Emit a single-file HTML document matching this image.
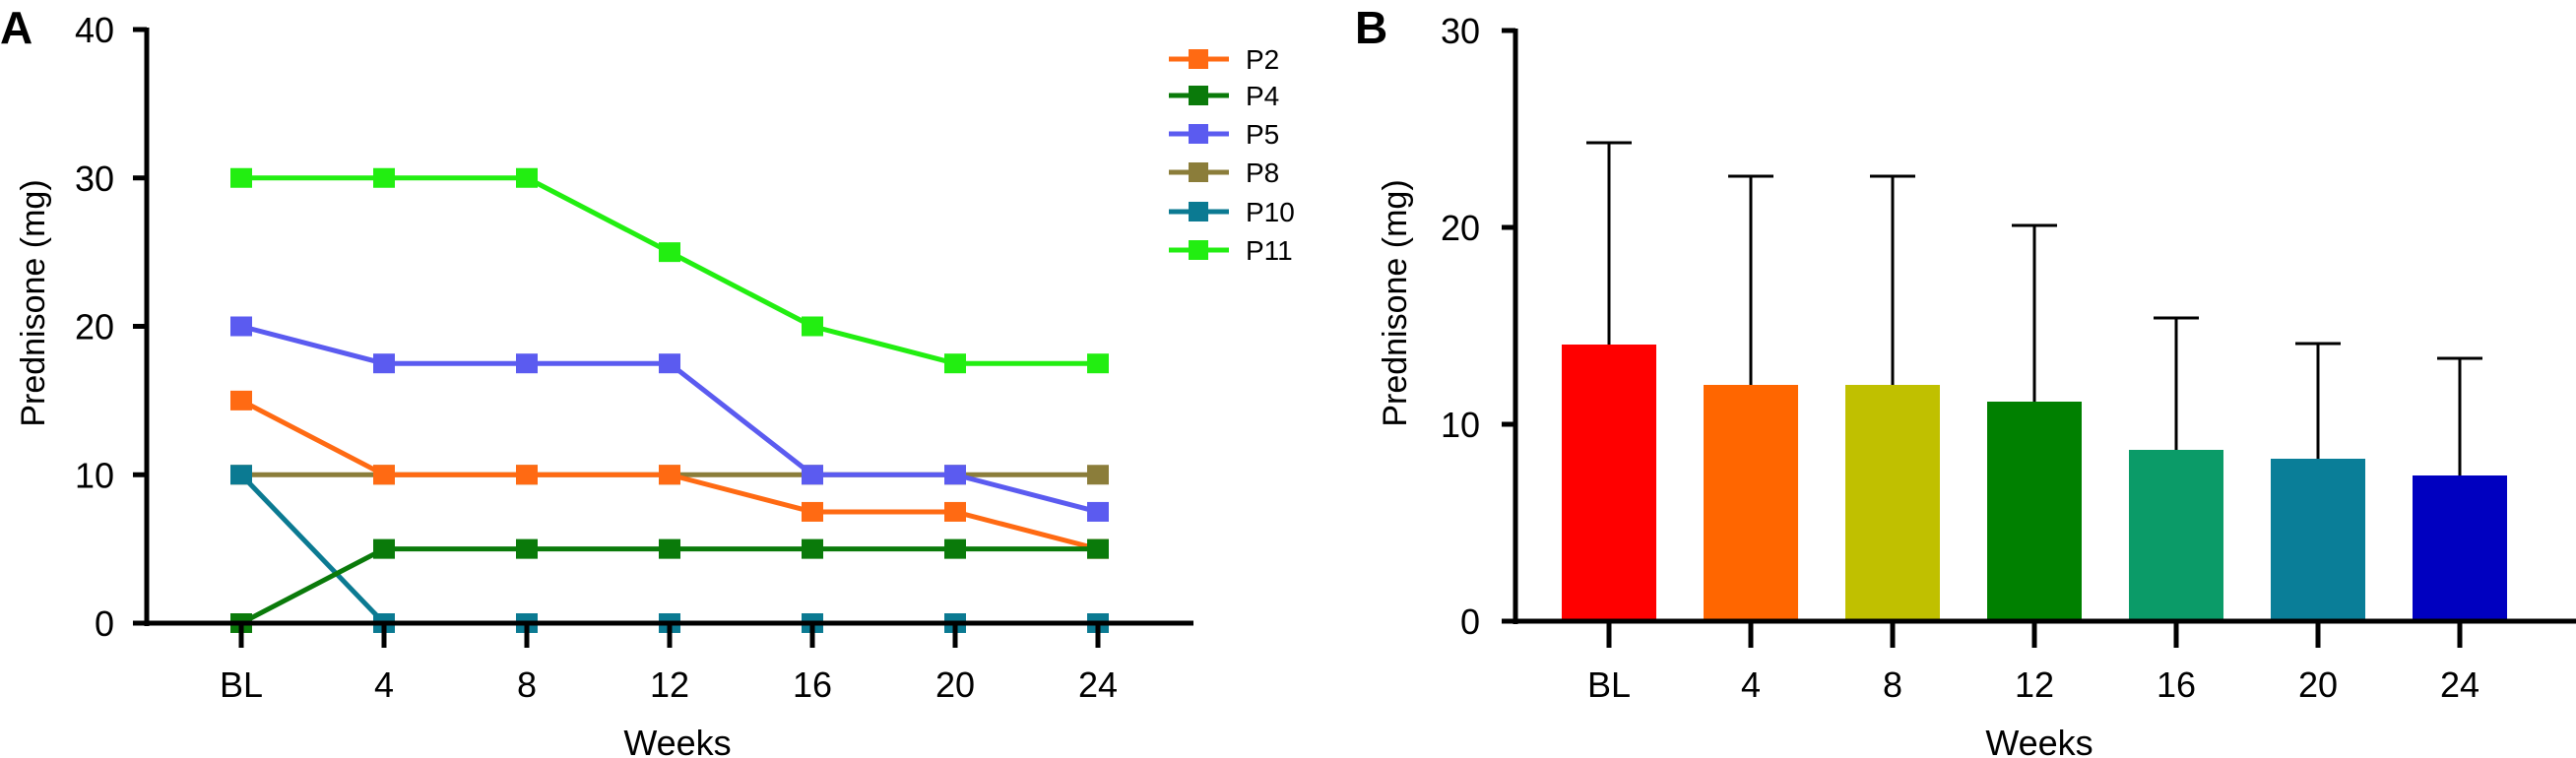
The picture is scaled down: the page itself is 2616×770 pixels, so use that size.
<!DOCTYPE html>
<html><head><meta charset="utf-8"><style>
html,body{margin:0;padding:0;background:#fff;}
svg{display:block;font-family:"Liberation Sans",sans-serif;}
</style></head><body>
<svg id="c" width="2616" height="770" viewBox="0 0 2616 770" xmlns="http://www.w3.org/2000/svg"></svg>
<script>
const weeks = ["BL","4","8","12","16","20","24"];
const seriesNames = ["P2","P4","P5","P8","P10","P11"];
const seriesColors = ["#ff6a13","#0a7a0a","#5b5bf0","#8b7d3a","#0b7a92","#22ee11"];
const p2 = [15,10,10,10,7.5,7.5,5];
const p4 = [0,5,5,5,5,5,5];
const p5 = [20,17.5,17.5,17.5,10,10,7.5];
const p8 = [10,10,10,10,10,10,10];
const p10 = [10,0,0,0,0,0,0];
const p11 = [30,30,30,25,20,17.5,17.5];
const yTicksA = [0,10,20,30,40];
const barMeans = [14.05,12.0,12.0,11.15,8.7,8.25,7.4];
const barErrTop = [24.3,22.6,22.6,20.1,15.4,14.1,13.35];
const barColors = ["#ff0000","#ff6600","#c0c000","#008000","#0b9b68","#0a7e98","#0000c0"];
const yTicksB = [0,10,20,30];

const NS="http://www.w3.org/2000/svg";
const svg=document.getElementById('c');
function mk(tag,attrs,parent,text){const e=document.createElementNS(NS,tag);for(const k in attrs)e.setAttribute(k,attrs[k]);if(text!==undefined)e.textContent=text;(parent||svg).appendChild(e);return e;}

// ---------- Panel A ----------
const gA=mk('g',{});


const axA={x0:149,y0:633,yMax:40,h:603,xFirst:245,step:145,xEnd:1212};
const xA=i=>axA.xFirst+i*axA.step;
const yA=v=>axA.y0-v/axA.yMax*axA.h;
let t=mk('text',{x:0,y:44,'font-size':46,'font-weight':'bold'},gA,'A');

const seriesData=[p2,p4,p5,p8,p10,p11];
// draw order: P8 behind etc
const order=[5,3,2,0,4,1];
order.forEach(si=>{
  const g=mk('g',{},gA);
  
  
  const pts=seriesData[si].map((v,i)=>xA(i)+','+yA(v)).join(' ');
  mk('polyline',{points:pts,fill:'none',stroke:seriesColors[si],'stroke-width':5,'stroke-linejoin':'round'},g);
  seriesData[si].forEach((v,i)=>{
    const r=mk('rect',{x:xA(i)-11,y:yA(v)-10,width:22,height:20,fill:seriesColors[si]},g);
    
    
  });
});
let l=mk('line',{x1:axA.x0,y1:axA.y0-axA.h-2,x2:axA.x0,y2:axA.y0+3,stroke:'#000','stroke-width':5},gA);

l=mk('line',{x1:axA.x0-2,y1:axA.y0,x2:axA.xEnd,y2:axA.y0,stroke:'#000','stroke-width':5},gA);

yTicksA.forEach(v=>{
  mk('line',{x1:axA.x0-14,y1:yA(v),x2:axA.x0,y2:yA(v),stroke:'#000','stroke-width':5},gA);
  const tt=mk('text',{x:116,y:yA(v)+13,'font-size':36,'text-anchor':'end',transform:'',},gA,String(v));
  
});
weeks.forEach((w,i)=>{
  mk('line',{x1:xA(i),y1:axA.y0,x2:xA(i),y2:658,stroke:'#000','stroke-width':5},gA);
  const tt=mk('text',{x:xA(i),y:708,'font-size':36,'text-anchor':'middle'},gA,w);
  
});
t=mk('text',{x:688,y:767,'font-size':36,'text-anchor':'middle'},gA,'Weeks');

t=mk('text',{x:0,y:0,'font-size':34,'text-anchor':'middle',transform:'translate(45,308) rotate(-90)'},gA,'Prednisone (mg)');

// legend
const legY=[60,97,136,175,215,254];
seriesNames.forEach((n,si)=>{
  const g=mk('g',{},gA);
  
  
  mk('line',{x1:1187,y1:legY[si],x2:1248,y2:legY[si],stroke:seriesColors[si],'stroke-width':5},g);
  mk('rect',{x:1207,y:legY[si]-10,width:20,height:20,fill:seriesColors[si]},g);
  mk('text',{x:1265,y:legY[si]+10,'font-size':28},g,n);
});

// ---------- Panel B ----------
const gB=mk('g',{});


const axB={x0:1539,y0:631,yMax:30,h:600,xFirst:1634,step:144,bw:96};
const xB=i=>axB.xFirst+i*axB.step;
const yB=v=>axB.y0-v/axB.yMax*axB.h;
t=mk('text',{x:1376,y:44,'font-size':46,'font-weight':'bold'},gB,'B');

weeks.forEach((w,i)=>{
  const e=mk('line',{x1:xB(i),y1:yB(barErrTop[i]),x2:xB(i),y2:yB(barMeans[i]),stroke:'#000','stroke-width':3},gB);
  
  mk('line',{x1:xB(i)-23,y1:yB(barErrTop[i]),x2:xB(i)+23,y2:yB(barErrTop[i]),stroke:'#000','stroke-width':3},gB);
  const r=mk('rect',{x:xB(i)-axB.bw/2,y:yB(barMeans[i]),width:axB.bw,height:axB.y0-yB(barMeans[i]),fill:barColors[i]},gB);
  
});
l=mk('line',{x1:axB.x0,y1:axB.y0-axB.h-2,x2:axB.x0,y2:axB.y0+3,stroke:'#000','stroke-width':5},gB);

l=mk('line',{x1:axB.x0-2,y1:axB.y0,x2:2616,y2:axB.y0,stroke:'#000','stroke-width':5},gB);

yTicksB.forEach(v=>{
  mk('line',{x1:axB.x0-14,y1:yB(v),x2:axB.x0,y2:yB(v),stroke:'#000','stroke-width':5},gB);
  const tt=mk('text',{x:1503,y:yB(v)+13,'font-size':36,'text-anchor':'end'},gB,String(v));
  
});
weeks.forEach((w,i)=>{
  mk('line',{x1:xB(i),y1:axB.y0,x2:xB(i),y2:658,stroke:'#000','stroke-width':5},gB);
  const tt=mk('text',{x:xB(i),y:708,'font-size':36,'text-anchor':'middle'},gB,w);
  
});
t=mk('text',{x:2071,y:767,'font-size':36,'text-anchor':'middle'},gB,'Weeks');

t=mk('text',{x:0,y:0,'font-size':34,'text-anchor':'middle',transform:'translate(1428,308) rotate(-90)'},gB,'Prednisone (mg)');

</script>
</body></html>
